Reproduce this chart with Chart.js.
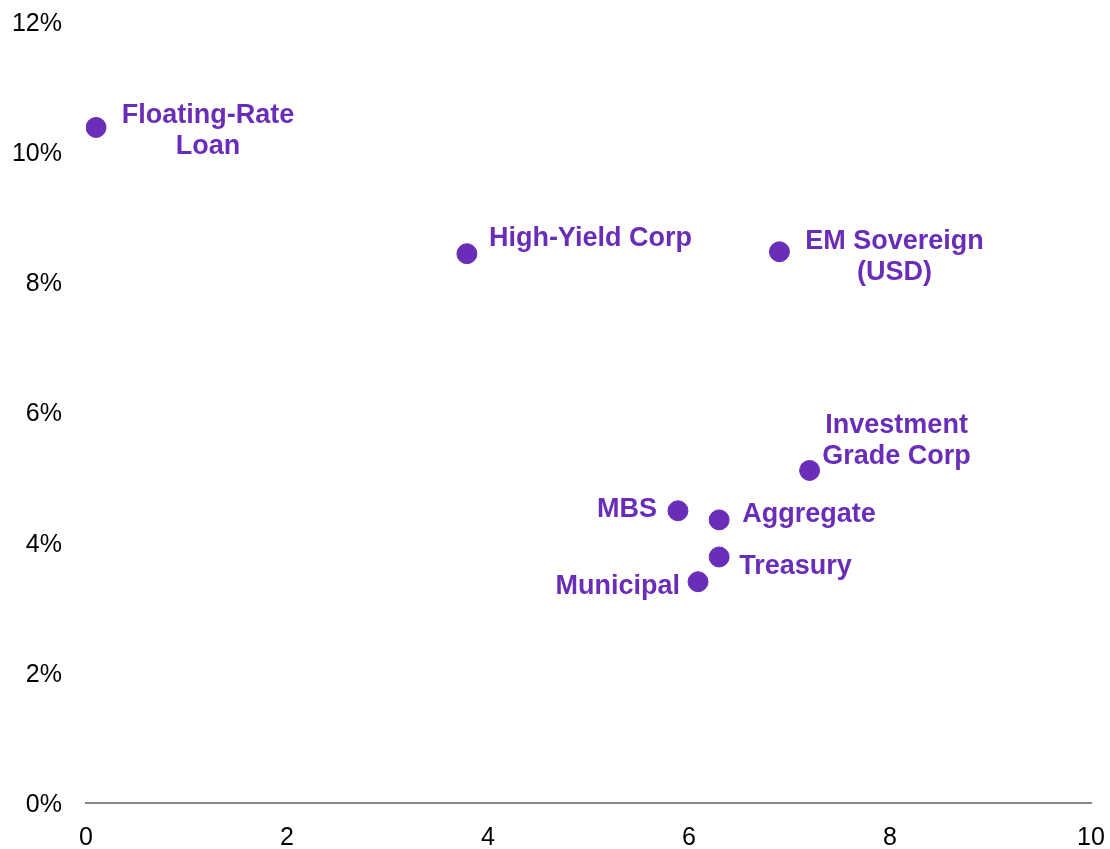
<!DOCTYPE html>
<html>
<head>
<meta charset="utf-8">
<script src="https://cdn.jsdelivr.net/npm/chart.js@4"></script>
<style>
  html, body { margin: 0; padding: 0; background: #fff; font-family: "Liberation Sans", Arial, sans-serif; }
  #wrap { width: 1110px; height: 849px; }
</style>
</head>
<body>
<div id="wrap"><canvas id="yieldChart" width="1110" height="849"></canvas></div>
<script>
// bond sectors: duration (years) vs yield (%)
var sectors = ["Floating-Rate Loan", "High-Yield Corp", "EM Sovereign (USD)", "Investment Grade Corp",
               "MBS", "Aggregate", "Treasury", "Municipal"];
var duration = [0.1, 3.79, 6.9, 7.2, 5.89, 6.3, 6.3, 6.09];
var yields = [10.38, 8.44, 8.47, 5.11, 4.49, 4.35, 3.78, 3.40];
var xTicks = [0, 2, 4, 6, 8, 10];
var yTicks = [0, 2, 4, 6, 8, 10, 12];

// how each label is broken into lines and where it sits next to its dot
var labelLines = [["Floating-Rate", "Loan"], ["High-Yield Corp"], ["EM Sovereign", "(USD)"],
                  ["Investment", "Grade Corp"], ["MBS"], ["Aggregate"], ["Treasury"], ["Municipal"]];
var labelPos = [
    { dx: 112, dy: -12, align: "center" },
    { dx: 22, dy: -15, align: "left" },
    { dx: 115, dy: -10, align: "center" },
    { dx: 87, dy: -45, align: "center" },
    { dx: -21, dy: -1, align: "right" },
    { dx: 23, dy: -5, align: "left" },
    { dx: 20, dy: 10, align: "left" },
    { dx: -18, dy: 5, align: "right" }
];

var purple = "#6a2db8";
var family = "Liberation Sans";

var points = [];
for (var i = 0; i < sectors.length; i++) {
    points.push({ x: duration[i], y: yields[i] });
}

var pointLabels = {
    id: "pointLabels",
    afterDatasetsDraw: function (chart) {
        var ctx = chart.ctx;
        var meta = chart.getDatasetMeta(0);
        ctx.save();
        ctx.fillStyle = purple;
        ctx.font = "bold 27px \"" + family + "\"";
        ctx.textBaseline = "middle";
        meta.data.forEach(function (pt, i) {
            var pos = labelPos[i];
            ctx.textAlign = pos.align;
            labelLines[i].forEach(function (line, j) {
                ctx.fillText(line, pt.x + pos.dx, pt.y + pos.dy + j * 31);
            });
        });
        ctx.restore();
    }
};

var tickFont = { family: "\"" + family + "\"", size: 25 };

// keep tick labels from pushing the plot area inwards
function noScalePadding(axis) {
    axis.paddingTop = 0;
    axis.paddingBottom = 0;
    axis.paddingLeft = 0;
    axis.paddingRight = 0;
}

var config = {
    type: "scatter",
    data: {
        datasets: [{
            label: "Yield",
            data: points,
            backgroundColor: purple,
            borderColor: purple,
            pointRadius: 10,
            pointHoverRadius: 10
        }]
    },
    options: {
        responsive: false,
        animation: false,
        layout: { padding: { top: 22, right: 19, left: 0, bottom: 0 } },
        plugins: {
            legend: { display: false },
            tooltip: { enabled: false }
        },
        scales: {
            x: {
                type: "linear",
                min: 0,
                max: 10,
                afterBuildTicks: function (axis) {
                    axis.ticks = xTicks.map(function (v) { return { value: v }; });
                },
                afterFit: function (axis) {
                    axis.height = 46;
                    noScalePadding(axis);
                },
                grid: { display: false, drawTicks: false },
                border: { display: true, color: "#888888", width: 2 },
                ticks: { color: "#000", font: tickFont, padding: 20, maxRotation: 0 }
            },
            y: {
                type: "linear",
                min: 0,
                max: 12,
                afterBuildTicks: function (axis) {
                    axis.ticks = yTicks.map(function (v) { return { value: v }; });
                },
                afterFit: function (axis) {
                    axis.width = 86;
                    noScalePadding(axis);
                },
                grid: { display: false, drawTicks: false },
                border: { display: false },
                ticks: {
                    color: "#000",
                    font: tickFont,
                    padding: 24,
                    labelOffset: 2,
                    callback: function (v) { return v + "%"; }
                }
            }
        }
    },
    plugins: [pointLabels]
};

var yieldChart = new Chart(document.getElementById("yieldChart"), config);
</script>
</body>
</html>
